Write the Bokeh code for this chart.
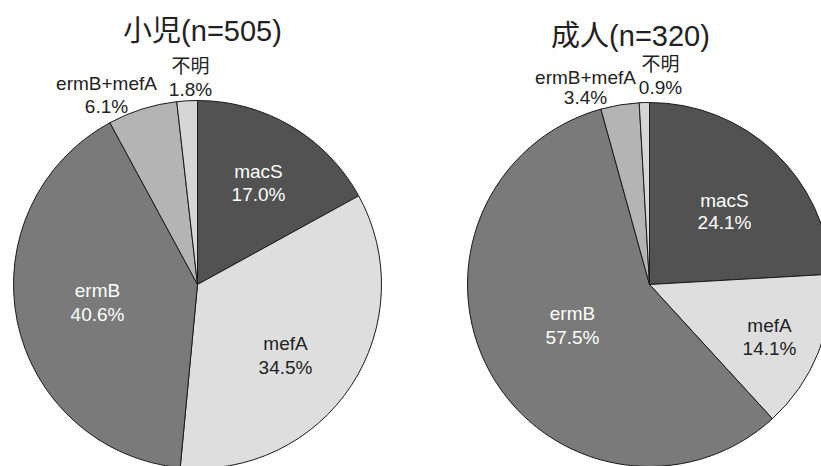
import math

from bokeh.core.properties import value
from bokeh.embed import file_html
from bokeh.models import ColumnDataSource, Range1d
from bokeh.plotting import figure
from bokeh.resources import INLINE

# Macrolide resistance genes, share of isolates (%)
categories = ["macS", "mefA", "ermB", "ermB+mefA", "不明"]
child_pct = [17.0, 34.5, 40.6, 6.1, 1.8]
adult_pct = [24.1, 14.1, 57.5, 3.4, 0.9]
titles = ["小児(n=505)", "成人(n=320)"]

# Slice fills (grey scale print)
fills = ["#525252", "#dedede", "#7a7a7a", "#b4b4b4", "#d6d6d6"]
text_colors = ["white", "#222222", "white", "#222222", "#222222"]

W, H = 821, 466
FONT = "Liberation Sans, Arial, Noto Sans CJK JP"

# Layout: pie centres / radii in screen pixels (y measured from top)
pies = [
    dict(values=child_pct, title=titles[0], cx=197, cy=284, r=184,
         title_xy=(202, 30),
         # label block centres relative to the pie centre (dx, dy downward)
         offsets=[(61, -102), (88, 71), (-100, 18), (-91, -190), (-7, -207)],
         spacing=[23, 24, 24, 23, 23]),
    dict(values=adult_pct, title=titles[1], cx=649, cy=284, r=182,
         title_xy=(630, 35),
         offsets=[(75, -73), (120, 52), (-77, 41), (-64, -197), (11, -209)],
         spacing=[22, 23, 24, 20, 23]),
]

p = figure(width=W, height=H, x_range=Range1d(0, W), y_range=Range1d(0, H),
           output_backend="svg", toolbar_location=None, min_border=0)
p.axis.visible = False
p.grid.visible = False
p.outline_line_color = None
p.background_fill_color = "white"
p.border_fill_color = "white"

for pie in pies:
    vals = pie["values"]
    total = sum(vals)
    cum = 0.0
    starts, ends = [], []
    for v in vals:
        a0 = math.pi / 2 - 2 * math.pi * cum / total
        cum += v
        a1 = math.pi / 2 - 2 * math.pi * cum / total
        starts.append(a0)
        ends.append(a1)

    cx, cy_top, r = pie["cx"], pie["cy"], pie["r"]
    cy = H - cy_top
    src = ColumnDataSource(dict(
        x=[cx] * len(vals), y=[cy] * len(vals),
        start=starts, end=ends, fill=fills, cat=categories,
    ))
    p.wedge(x="x", y="y", radius=r, start_angle="start", end_angle="end",
            direction="clock", fill_color="fill", line_color="#1a1a1a",
            line_width=1, source=src)

    # two-line labels: category name above its percentage
    lx, ly, lt, lc = [], [], [], []
    for i, v in enumerate(vals):
        dx, dy = pie["offsets"][i]
        sp = pie["spacing"][i]
        bx, by = cx + dx, cy - dy
        lx += [bx, bx]
        ly += [by + sp / 2, by - sp / 2]
        lt += [categories[i], f"{v:.1f}%"]
        lc += [text_colors[i], text_colors[i]]
    lab = ColumnDataSource(dict(x=lx, y=ly, t=lt, c=lc))
    p.text(x="x", y="y", text="t", text_color="c", source=lab,
           text_font=value(FONT), text_font_size="19px",
           text_align="center", text_baseline="middle")

    tx, ty = pie["title_xy"]
    p.text(x=[tx], y=[H - ty], text=[pie["title"]], text_color="#222222",
           text_font=value(FONT), text_font_size="29px",
           text_align="center", text_baseline="middle")

open("out.html", "w").write(file_html(p, INLINE))
